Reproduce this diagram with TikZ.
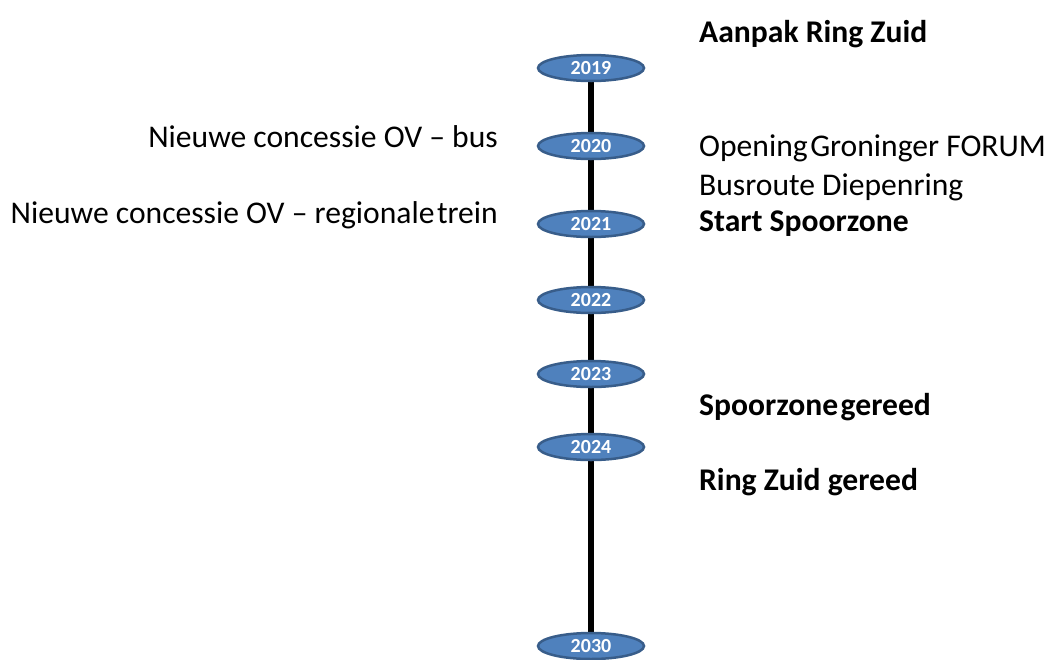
\documentclass[tikz,border=0pt]{standalone}
\usepackage{fontspec}
\setmainfont{Carlito}
\usetikzlibrary{shapes.geometric}
\definecolor{yearfill}{HTML}{4F81BD}
\definecolor{yeardraw}{HTML}{385D8A}
\tikzset{
  year/.style={ellipse, draw=yeardraw, fill=yearfill, line width=2.5pt,
    minimum width=106pt, minimum height=26pt, inner sep=0pt,
    text=white, font=\fontsize{20}{20}\selectfont\bfseries},
  rlabel/.style={anchor=base west, inner sep=0pt, font=\fontsize{31.6}{31.6}\selectfont},
  llabel/.style={anchor=base east, inner sep=0pt, font=\fontsize{31.6}{31.6}\selectfont},
  spine/.style={line width=6pt, black}
}
\begin{document}
\begin{tikzpicture}[x=1pt,y=1pt]
\useasboundingbox (0,0) rectangle (1052,-659);
\coordinate (top) at (591,-68);
\coordinate (bot) at (591,-646);
\draw[spine] (top) -- (bot);
\node[year] (y2019) at (591,-68) {2019};
\node[year] (y2020) at (591,-146) {2020};
\node[year] (y2021) at (591,-224) {2021};
\node[year] (y2022) at (591,-300) {2022};
\node[year] (y2023) at (591,-374) {2023};
\node[year] (y2024) at (591,-447) {2024};
\node[year] (y2030) at (591,-646) {2030};
\node[rlabel] (t1) at (699,-42) {\bfseries Aanpak Ring Zuid};
\node[rlabel] (t2) at (699,-156) {Opening\hspace{0.08em}Groninger FORUM};
\node[rlabel] (t3) at (699,-195) {Busroute Diepenring};
\node[rlabel] (t4) at (699,-231) {\bfseries Start Spoorzone};
\node[rlabel] (t5) at (699,-415) {\bfseries Spoorzone\hspace{0.08em}gereed};
\node[rlabel] (t6) at (699,-490) {\bfseries Ring Zuid gereed};
\node[llabel] (l1) at (498,-147) {Nieuwe concessie OV -- bus};
\node[llabel] (l2) at (498,-223) {Nieuwe concessie OV -- regionale\hspace{0.08em}trein};
\end{tikzpicture}
\end{document}
